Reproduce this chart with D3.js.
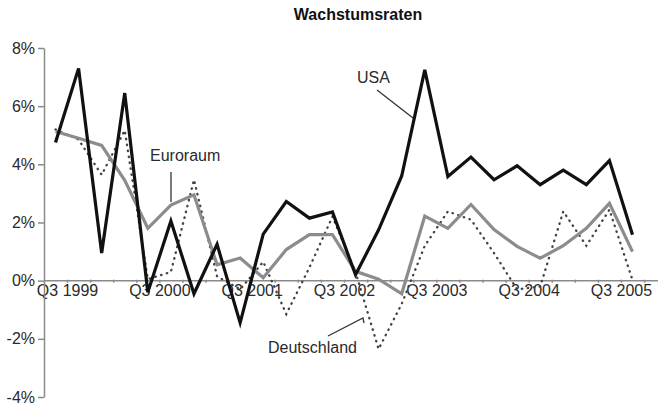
<!DOCTYPE html>
<html>
<head>
<meta charset="utf-8">
<script src="https://cdn.jsdelivr.net/npm/d3@7"></script>
<style>
  body { margin: 0; background: #fff; }
  svg text { font-family: "Liberation Sans", Arial, Helvetica, sans-serif; }
  .axis path, .axis line { stroke: #8a8a8a; stroke-width: 1.5; }
  .axis text { fill: #2a2a2a; font-size: 16px; }
</style>
</head>
<body>
<div id="chart"></div>
<script>
// quarters from Q3 1999 to Q4 2005
var quarters = ["Q3 1999","Q4 1999","Q1 2000","Q2 2000","Q3 2000","Q4 2000",
  "Q1 2001","Q2 2001","Q3 2001","Q4 2001","Q1 2002","Q2 2002","Q3 2002","Q4 2002",
  "Q1 2003","Q2 2003","Q3 2003","Q4 2003","Q1 2004","Q2 2004","Q3 2004","Q4 2004",
  "Q1 2005","Q2 2005","Q3 2005","Q4 2005"];

var usa = [4.75, 7.3, 0.95, 6.45, -0.4, 2.05, -0.45, 1.25, -1.45, 1.6, 2.72, 2.15,
  2.36, 0.2, 1.75, 3.6, 7.25, 3.58, 4.25, 3.47, 3.95, 3.3, 3.8, 3.3, 4.13, 1.58];

var euroraum = [5.13, 4.9, 4.65, 3.45, 1.8, 2.6, 2.95, 0.55, 0.78, 0.1, 1.07, 1.58,
  1.58, 0.32, 0.05, -0.45, 2.22, 1.8, 2.62, 1.76, 1.18, 0.77, 1.2, 1.8, 2.66, 1.0];

var deutschland = [5.2, 4.85, 3.64, 5.17, 0.05, 0.3, 3.47, 0.15, -0.3, 0.65, -1.15, 0.45,
  2.2, 0.3, -2.35, -0.8, 1.2, 2.38, 2.1, 0.95, -0.3, -0.2, 2.38, 1.2, 2.44, 0.02];

var yTicks = [-4, -2, 0, 2, 4, 6, 8];

var width = 660, height = 406;

var svg = d3.select("#chart").append("svg")
    .attr("width", width)
    .attr("height", height);

var xScale = d3.scalePoint().domain(quarters).range([55.5, 632.5]);
var step = xScale.step();
var yScale = d3.scaleLinear().domain([-4, 8]).range([397, 48]);

// title
svg.append("text")
    .attr("x", 358)
    .attr("y", 20)
    .attr("text-anchor", "middle")
    .style("font-size", "16px")
    .style("font-weight", "bold")
    .style("fill", "#111")
    .text("Wachstumsraten");

// zero line
svg.append("line")
    .attr("x1", 44).attr("x2", 658)
    .attr("y1", yScale(0)).attr("y2", yScale(0))
    .attr("stroke", "#8a8a8a")
    .attr("stroke-width", 1.5);

// x axis: ticks between quarters, labels for every Q3
var xAxis = d3.axisBottom(xScale)
    .tickValues(quarters)
    .tickSize(3)
    .tickFormat(function(d) { return d.indexOf("Q3") === 0 ? d : ""; });

var gx = svg.append("g")
    .attr("class", "axis axis--x")
    .attr("transform", "translate(" + (step / 2) + "," + (yScale(0) - 1) + ")")
    .call(xAxis);
gx.select(".domain").remove();
gx.selectAll("text").attr("dy", "0.85em").attr("y", 3);

// y axis
var yAxis = d3.axisLeft(yScale)
    .tickValues(yTicks)
    .tickSize(6)
    .tickSizeOuter(0)
    .tickFormat(function(d) { return d + "%"; });

var gy = svg.append("g")
    .attr("class", "axis axis--y")
    .attr("transform", "translate(44,0)")
    .call(yAxis);
gy.selectAll("text").attr("x", -9);

var line = d3.line()
    .x(function(d, i) { return xScale(quarters[i]); })
    .y(function(d) { return yScale(d); });

svg.append("path")
    .datum(deutschland)
    .attr("fill", "none")
    .attr("stroke", "#444")
    .attr("stroke-width", 2.3)
    .attr("stroke-linecap", "round")
    .attr("stroke-dasharray", "0.5,5.5")
    .attr("d", line);

svg.append("path")
    .datum(euroraum)
    .attr("fill", "none")
    .attr("stroke", "#8c8c8c")
    .attr("stroke-width", 3.2)
    .attr("d", line);

svg.append("path")
    .datum(usa)
    .attr("fill", "none")
    .attr("stroke", "#111")
    .attr("stroke-width", 3.2)
    .attr("d", line);

// series labels with leader lines
var labels = [
  {text: "USA", x: 357, y: 83, lead: [[377, 90], [413, 118]]},
  {text: "Euroraum", x: 150, y: 161, lead: [[171, 172], [171, 202]]},
  {text: "Deutschland", x: 268, y: 353, lead: [[328, 336], [363, 318], [364, 323]]}
];

labels.forEach(function(l) {
  svg.append("text")
      .attr("x", l.x)
      .attr("y", l.y)
      .style("font-size", "16px")
      .style("fill", "#2a2a2a")
      .text(l.text);
  svg.append("path")
      .attr("d", d3.line()(l.lead))
      .attr("fill", "none")
      .attr("stroke", "#333")
      .attr("stroke-width", 1.3);
});
</script>
</body>
</html>
